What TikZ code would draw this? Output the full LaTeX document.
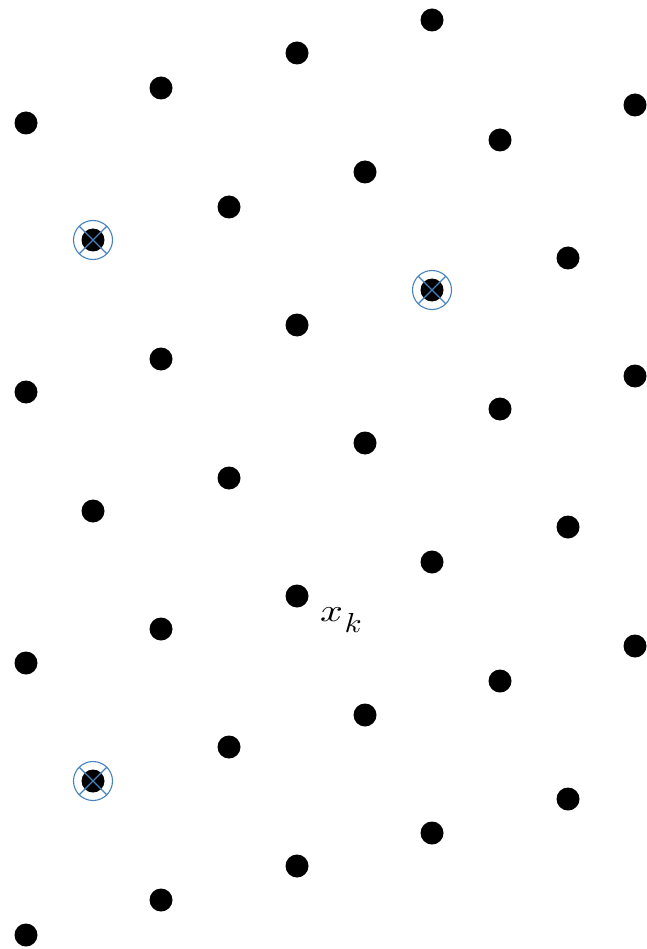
\documentclass[tikz,border=0pt]{standalone}
\usepackage{graphicx}
\usepackage{tikz}
\usetikzlibrary{calc}
\begin{document}
\begin{tikzpicture}[x=1pt,y=-1pt,
  latdot/.style={circle,fill=black,inner sep=0pt,minimum size=23pt},
  ring/.style={draw=ringblue,line width=1.1pt}]
\definecolor{ringblue}{RGB}{70,130,190}
\useasboundingbox (0,0) rectangle (646,949);
\foreach \px/\py [count=\n] in {
 26/123, 26/392, 26/663, 26/935,
 93/240, 93/511, 93/781,
 161/88, 161/359, 161/629, 161/900,
 229/207, 229/478, 229/747,
 297/53, 297/325, 297/596, 297/866,
 365/172, 365/443, 365/715,
 432/20, 432/290, 432/562, 432/833,
 500/140, 500/409, 500/681,
 568/258, 568/527, 568/799,
 635/105, 635/376, 635/646}
{
  \node[latdot] (d\n) at (\px,\py) {};
}
\foreach \cx/\cy/\nm in {93/240/c1, 432/290/c2, 93/781/c3}{
  \coordinate (\nm) at (\cx,\cy);
  \draw[ring] (\nm) circle (19.5);
  \draw[ring] ($(\nm)+(-13.8,-13.8)$) -- ($(\nm)+(13.8,13.8)$);
  \draw[ring] ($(\nm)+(-13.8,13.8)$) -- ($(\nm)+(13.8,-13.8)$);
}
\node[anchor=base west,inner sep=0pt] (xk) at (320,621)
  {\scalebox{4.0}[3.2]{$x$}\hspace{1.5pt}\raisebox{-11pt}{\scalebox{3.1}[2.75]{$k$}}};
\end{tikzpicture}
\end{document}
